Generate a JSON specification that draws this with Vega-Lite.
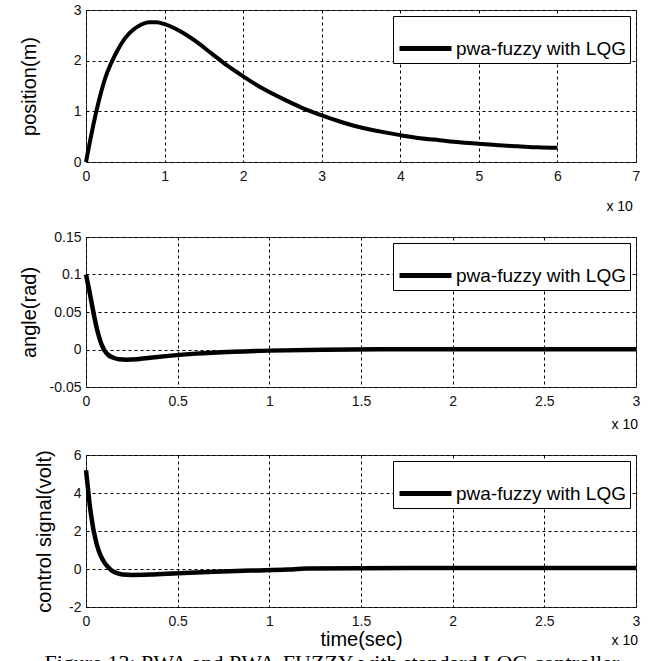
{
  "$schema": "https://vega.github.io/schema/vega-lite/v6.json",
  "background": "white",
  "padding": {"left": 18, "top": 2, "right": 5, "bottom": 5},
  "spacing": 14,
  "title": {"text": "Figure 13: PWA and PWA-FUZZY with standard LQG controller", "orient": "bottom", "anchor": "start", "font": "Liberation Serif", "fontSize": 22, "fontWeight": "normal", "color": "#000", "offset": 3, "dx": 26},
  "datasets": {
    "position": [
      {"t": 0, "v": 0, "s": "pwa-fuzzy with LQG"},
      {"t": 0.05, "v": 0.4, "s": "pwa-fuzzy with LQG"},
      {"t": 0.1, "v": 0.78, "s": "pwa-fuzzy with LQG"},
      {"t": 0.15, "v": 1.12, "s": "pwa-fuzzy with LQG"},
      {"t": 0.2, "v": 1.42, "s": "pwa-fuzzy with LQG"},
      {"t": 0.25, "v": 1.68, "s": "pwa-fuzzy with LQG"},
      {"t": 0.3, "v": 1.88, "s": "pwa-fuzzy with LQG"},
      {"t": 0.35, "v": 2.05, "s": "pwa-fuzzy with LQG"},
      {"t": 0.4, "v": 2.2, "s": "pwa-fuzzy with LQG"},
      {"t": 0.5, "v": 2.45, "s": "pwa-fuzzy with LQG"},
      {"t": 0.6, "v": 2.61, "s": "pwa-fuzzy with LQG"},
      {"t": 0.7, "v": 2.71, "s": "pwa-fuzzy with LQG"},
      {"t": 0.8, "v": 2.76, "s": "pwa-fuzzy with LQG"},
      {"t": 0.9, "v": 2.76, "s": "pwa-fuzzy with LQG"},
      {"t": 1.0, "v": 2.72, "s": "pwa-fuzzy with LQG"},
      {"t": 1.1, "v": 2.66, "s": "pwa-fuzzy with LQG"},
      {"t": 1.2, "v": 2.58, "s": "pwa-fuzzy with LQG"},
      {"t": 1.4, "v": 2.38, "s": "pwa-fuzzy with LQG"},
      {"t": 1.6, "v": 2.14, "s": "pwa-fuzzy with LQG"},
      {"t": 1.8, "v": 1.9, "s": "pwa-fuzzy with LQG"},
      {"t": 2.0, "v": 1.69, "s": "pwa-fuzzy with LQG"},
      {"t": 2.25, "v": 1.45, "s": "pwa-fuzzy with LQG"},
      {"t": 2.5, "v": 1.25, "s": "pwa-fuzzy with LQG"},
      {"t": 2.75, "v": 1.07, "s": "pwa-fuzzy with LQG"},
      {"t": 3.0, "v": 0.92, "s": "pwa-fuzzy with LQG"},
      {"t": 3.25, "v": 0.79, "s": "pwa-fuzzy with LQG"},
      {"t": 3.5, "v": 0.68, "s": "pwa-fuzzy with LQG"},
      {"t": 3.75, "v": 0.6, "s": "pwa-fuzzy with LQG"},
      {"t": 4.0, "v": 0.53, "s": "pwa-fuzzy with LQG"},
      {"t": 4.25, "v": 0.47, "s": "pwa-fuzzy with LQG"},
      {"t": 4.5, "v": 0.43, "s": "pwa-fuzzy with LQG"},
      {"t": 4.75, "v": 0.39, "s": "pwa-fuzzy with LQG"},
      {"t": 5.0, "v": 0.36, "s": "pwa-fuzzy with LQG"},
      {"t": 5.25, "v": 0.33, "s": "pwa-fuzzy with LQG"},
      {"t": 5.5, "v": 0.31, "s": "pwa-fuzzy with LQG"},
      {"t": 5.75, "v": 0.29, "s": "pwa-fuzzy with LQG"},
      {"t": 6.0, "v": 0.28, "s": "pwa-fuzzy with LQG"}
    ],
    "angle": [
      {"t": 0, "v": 0.1, "s": "pwa-fuzzy with LQG"},
      {"t": 0.01, "v": 0.088, "s": "pwa-fuzzy with LQG"},
      {"t": 0.02, "v": 0.076, "s": "pwa-fuzzy with LQG"},
      {"t": 0.03, "v": 0.063, "s": "pwa-fuzzy with LQG"},
      {"t": 0.04, "v": 0.05, "s": "pwa-fuzzy with LQG"},
      {"t": 0.05, "v": 0.038, "s": "pwa-fuzzy with LQG"},
      {"t": 0.06, "v": 0.027, "s": "pwa-fuzzy with LQG"},
      {"t": 0.07, "v": 0.018, "s": "pwa-fuzzy with LQG"},
      {"t": 0.08, "v": 0.01, "s": "pwa-fuzzy with LQG"},
      {"t": 0.09, "v": 0.004, "s": "pwa-fuzzy with LQG"},
      {"t": 0.1, "v": -0.001, "s": "pwa-fuzzy with LQG"},
      {"t": 0.12, "v": -0.007, "s": "pwa-fuzzy with LQG"},
      {"t": 0.15, "v": -0.011, "s": "pwa-fuzzy with LQG"},
      {"t": 0.18, "v": -0.013, "s": "pwa-fuzzy with LQG"},
      {"t": 0.22, "v": -0.0135, "s": "pwa-fuzzy with LQG"},
      {"t": 0.28, "v": -0.013, "s": "pwa-fuzzy with LQG"},
      {"t": 0.35, "v": -0.011, "s": "pwa-fuzzy with LQG"},
      {"t": 0.45, "v": -0.0085, "s": "pwa-fuzzy with LQG"},
      {"t": 0.6, "v": -0.0055, "s": "pwa-fuzzy with LQG"},
      {"t": 0.8, "v": -0.003, "s": "pwa-fuzzy with LQG"},
      {"t": 1.0, "v": -0.0015, "s": "pwa-fuzzy with LQG"},
      {"t": 1.3, "v": -0.0003, "s": "pwa-fuzzy with LQG"},
      {"t": 1.6, "v": 0.0003, "s": "pwa-fuzzy with LQG"},
      {"t": 2.0, "v": 0.0004, "s": "pwa-fuzzy with LQG"},
      {"t": 2.5, "v": 0.0004, "s": "pwa-fuzzy with LQG"},
      {"t": 3.0, "v": 0.0004, "s": "pwa-fuzzy with LQG"}
    ],
    "control": [
      {"t": 0, "v": 5.2, "s": "pwa-fuzzy with LQG"},
      {"t": 0.01, "v": 4.3, "s": "pwa-fuzzy with LQG"},
      {"t": 0.02, "v": 3.4, "s": "pwa-fuzzy with LQG"},
      {"t": 0.03, "v": 2.7, "s": "pwa-fuzzy with LQG"},
      {"t": 0.04, "v": 2.1, "s": "pwa-fuzzy with LQG"},
      {"t": 0.05, "v": 1.65, "s": "pwa-fuzzy with LQG"},
      {"t": 0.06, "v": 1.25, "s": "pwa-fuzzy with LQG"},
      {"t": 0.07, "v": 0.95, "s": "pwa-fuzzy with LQG"},
      {"t": 0.08, "v": 0.7, "s": "pwa-fuzzy with LQG"},
      {"t": 0.1, "v": 0.35, "s": "pwa-fuzzy with LQG"},
      {"t": 0.12, "v": 0.1, "s": "pwa-fuzzy with LQG"},
      {"t": 0.14, "v": -0.08, "s": "pwa-fuzzy with LQG"},
      {"t": 0.17, "v": -0.22, "s": "pwa-fuzzy with LQG"},
      {"t": 0.2, "v": -0.29, "s": "pwa-fuzzy with LQG"},
      {"t": 0.25, "v": -0.31, "s": "pwa-fuzzy with LQG"},
      {"t": 0.35, "v": -0.29, "s": "pwa-fuzzy with LQG"},
      {"t": 0.5, "v": -0.22, "s": "pwa-fuzzy with LQG"},
      {"t": 0.7, "v": -0.14, "s": "pwa-fuzzy with LQG"},
      {"t": 0.9, "v": -0.08, "s": "pwa-fuzzy with LQG"},
      {"t": 1.1, "v": -0.03, "s": "pwa-fuzzy with LQG"},
      {"t": 1.2, "v": 0.02, "s": "pwa-fuzzy with LQG"},
      {"t": 1.5, "v": 0.04, "s": "pwa-fuzzy with LQG"},
      {"t": 2.0, "v": 0.05, "s": "pwa-fuzzy with LQG"},
      {"t": 2.5, "v": 0.05, "s": "pwa-fuzzy with LQG"},
      {"t": 3.0, "v": 0.05, "s": "pwa-fuzzy with LQG"}
    ]
  },
  "config": {
    "font": "Liberation Sans",
    "view": {"stroke": "#333", "strokeWidth": 1},
    "axis": {
      "grid": true, "gridColor": "#000", "gridDash": [3, 3], "gridWidth": 1, "gridOpacity": 1,
      "domain": false, "ticks": false,
      "labelFont": "Liberation Sans", "labelFontSize": 14, "labelColor": "#111",
      "labelFlush": false, "labelOverlap": false,
      "titleFont": "Liberation Sans", "titleFontSize": 20, "titleFontWeight": "normal", "titleColor": "#000"
    },
    "axisX": {"labelPadding": 7},
    "axisY": {"labelPadding": 5},
    "legend": {
      "orient": "top-right", "offset": 6, "padding": 4,
      "strokeColor": "#000", "fillColor": "white", "cornerRadius": 0,
      "symbolType": "stroke", "symbolStrokeWidth": 5, "symbolSize": 2704,
      "labelFont": "Liberation Sans", "labelFontSize": 19, "labelColor": "#000", "labelOffset": 2, "labelLimit": 0
    },
    "title": {"font": "Liberation Sans"}
  },
  "resolve": {"scale": {"color": "independent"}, "legend": {"color": "independent"}},
  "vconcat": [
    {
      "width": 550, "height": 152,
      "data": {"name": "position"},
      "mark": {"type": "line", "strokeWidth": 4, "interpolate": "monotone"},
      "encoding": {
        "x": {"field": "t", "type": "quantitative", "scale": {"domain": [0, 7], "nice": false}, "axis": {"values": [0, 1, 2, 3, 4, 5, 6, 7], "title": null}},
        "y": {"field": "v", "type": "quantitative", "scale": {"domain": [0, 3], "nice": false}, "axis": {"values": [0, 1, 2, 3], "title": "position(m)", "titleX": -57, "titleBaseline": "middle"}},
        "color": {"field": "s", "type": "nominal", "scale": {"range": ["#000"]}, "legend": {"title": null}}
      },
      "title": {"text": "x 10", "orient": "bottom", "anchor": "end", "offset": 17, "dx": -7, "fontSize": 14, "fontWeight": "normal", "color": "#000"}
    },
    {
      "width": 550, "height": 150,
      "data": {"name": "angle"},
      "mark": {"type": "line", "strokeWidth": 4.5, "interpolate": "monotone"},
      "encoding": {
        "x": {"field": "t", "type": "quantitative", "scale": {"domain": [0, 3], "nice": false}, "axis": {"values": [0, 0.5, 1, 1.5, 2, 2.5, 3], "format": "~g", "title": null}},
        "y": {"field": "v", "type": "quantitative", "scale": {"domain": [-0.05, 0.15], "nice": false, "zero": false}, "axis": {"values": [-0.05, 0, 0.05, 0.1, 0.15], "labelExpr": "replace(format(datum.value, '~g'), '\u2212', '-')", "title": "angle(rad)", "titleX": -57, "titleBaseline": "middle"}},
        "color": {"field": "s", "type": "nominal", "scale": {"range": ["#000"]}, "legend": {"title": null}}
      },
      "title": {"text": "x 10", "orient": "bottom", "anchor": "end", "offset": 10, "dx": -7, "fontSize": 14, "fontWeight": "normal", "color": "#000"}
    },
    {
      "width": 550, "height": 152,
      "data": {"name": "control"},
      "mark": {"type": "line", "strokeWidth": 4.5, "interpolate": "monotone"},
      "encoding": {
        "x": {"field": "t", "type": "quantitative", "scale": {"domain": [0, 3], "nice": false}, "axis": {"values": [0, 0.5, 1, 1.5, 2, 2.5, 3], "format": "~g", "title": "time(sec)", "titleFontSize": 20, "titlePadding": 1}},
        "y": {"field": "v", "type": "quantitative", "scale": {"domain": [-2, 6], "nice": false, "zero": false}, "axis": {"values": [-2, 0, 2, 4, 6], "labelExpr": "replace(format(datum.value, '~g'), '\u2212', '-')", "title": "control signal(volt)", "titleX": -42, "titleBaseline": "middle"}},
        "color": {"field": "s", "type": "nominal", "scale": {"range": ["#000"]}, "legend": {"title": null}}
      },
      "title": {"text": "x 10", "orient": "bottom", "anchor": "end", "offset": -15, "dx": -7, "fontSize": 14, "fontWeight": "normal", "color": "#000"}
    }
  ]
}
